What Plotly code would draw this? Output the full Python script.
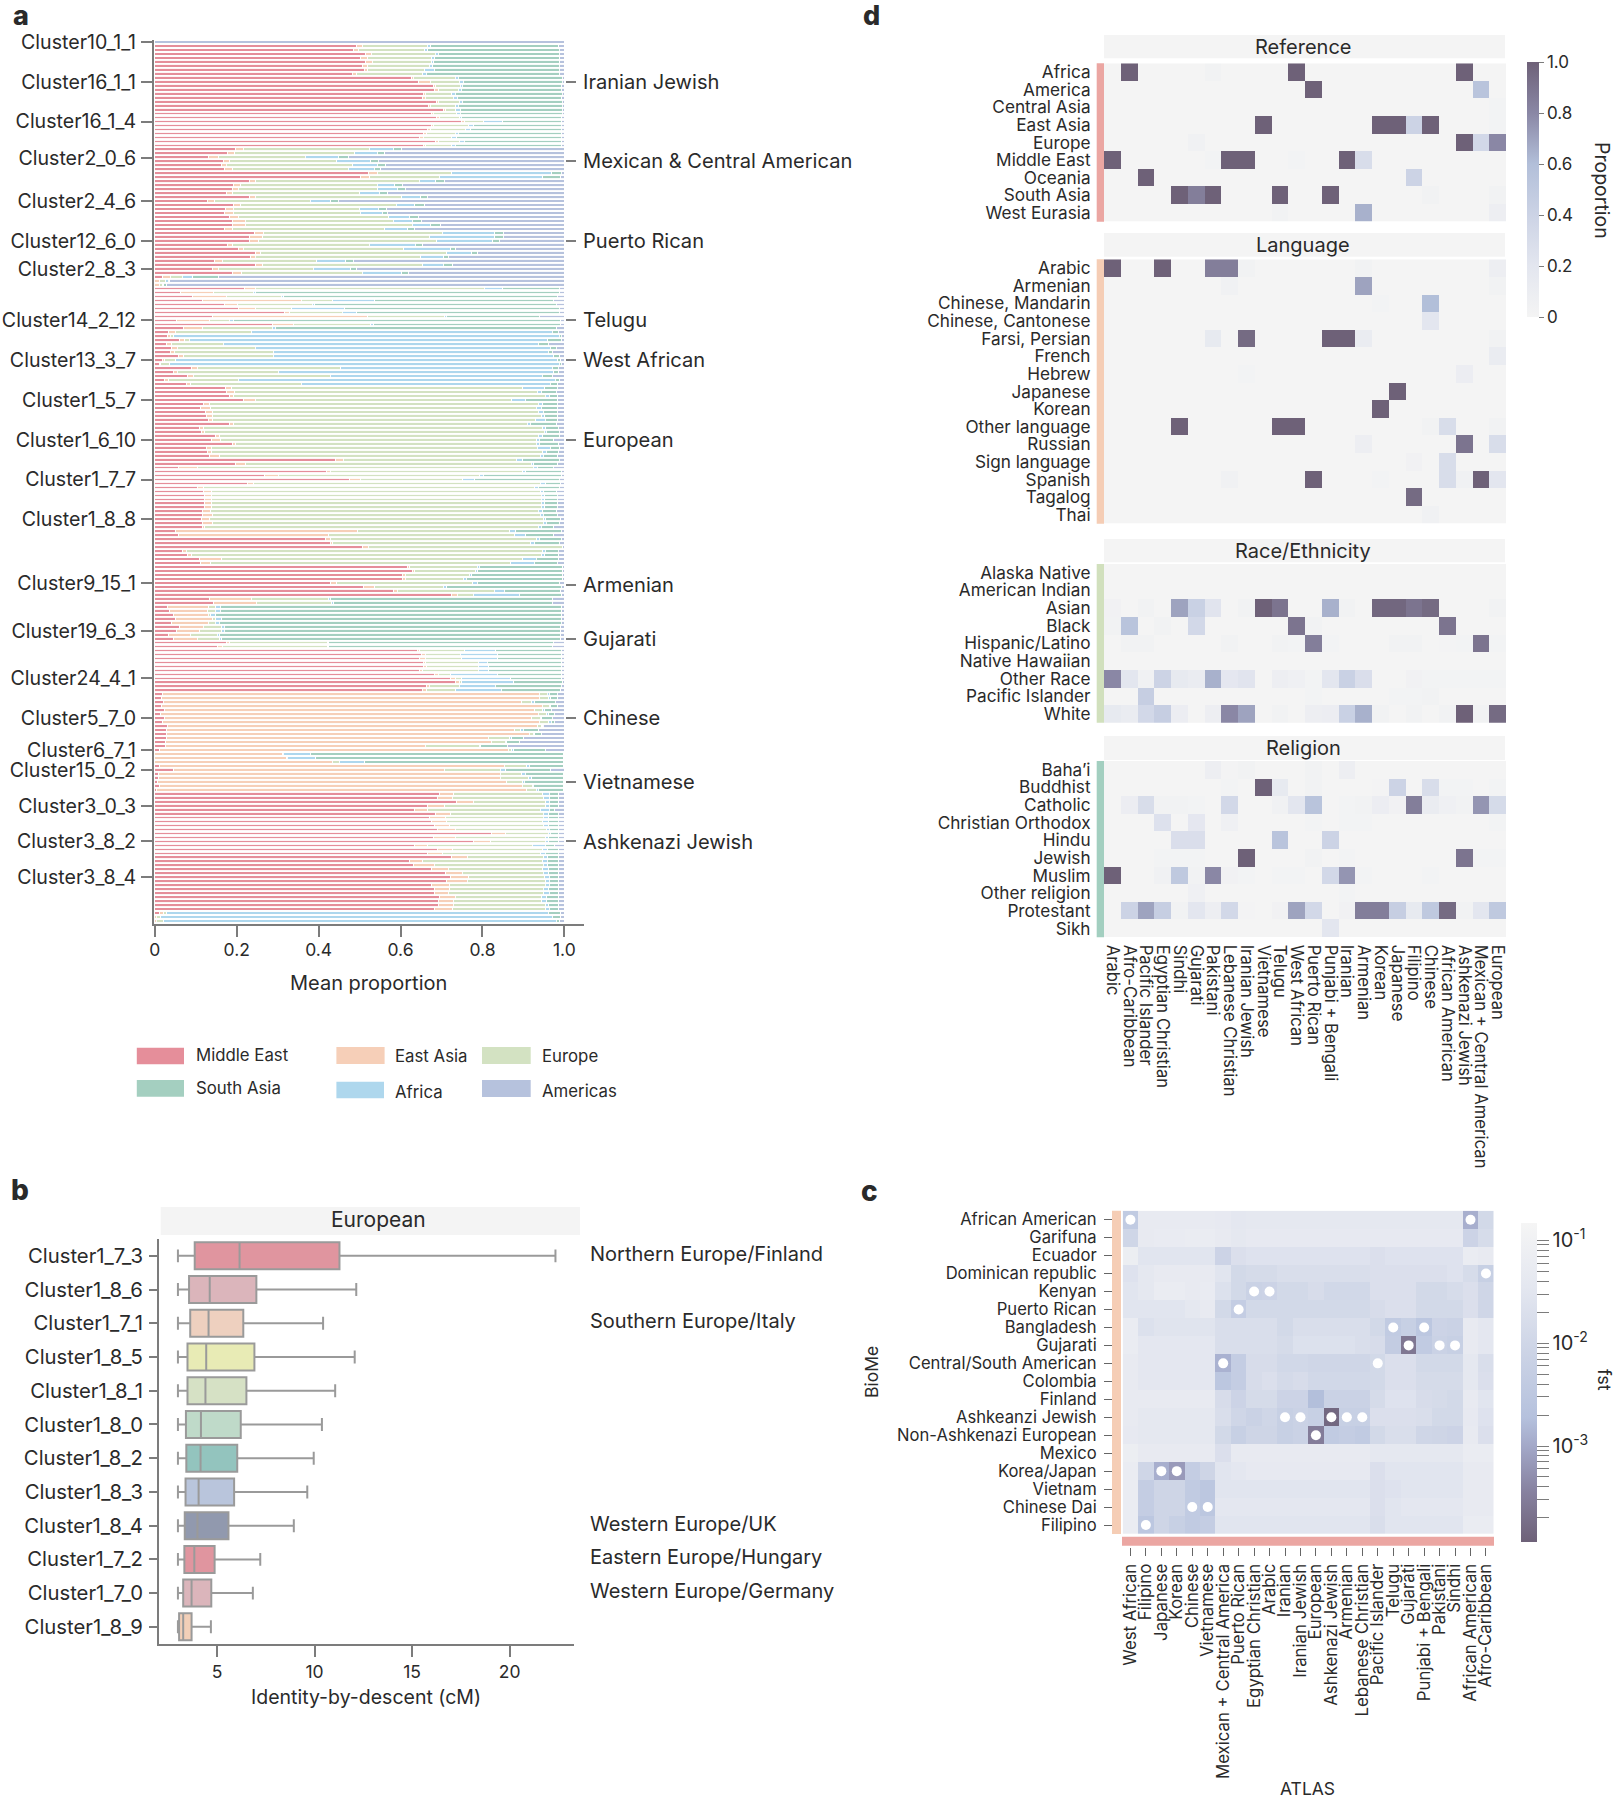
import numpy as np
import plotly.graph_objects as go

W, H = 1614, 1800
FONT = "Inter"
INK = "#2a2a2a"
AXIS = "#7c7c7c"
STRIP = "#f4f4f4"

# --- panel a: cumulative end of each region along the bar, one entry per row
me_end = [
    0, .493, .486, .515, .502, .515, .507, .511, .482,
    .627, .644, .681, .682, .656, .654, .688, .668, .705, .675, .689,
    .748, .675, .665, .657, .646, .686, .656,
    .198, .177, .130, .167, .164, .171, .521, .502,
    .230, .191, .189, .175, .232, .128, .191, .173, .170, .183, .189, .189, .170,
    .244, .230, .230, .177, .204, .246, .234, .146, .246, .140, .189,
    .019, 0, 0,
    .218, .063, .091, .116, .170, .204, .317, .142, .053, .287, .069, .034, .031, .061, .029, .041, .038, .057, .018, .011,
    .089, .045, .081, .023, .077,
    .173, .175, .183, .216, .118, .112, .124, .125, .130, .183, .110, .114, .149, .139, .190, .125, .128, .134,
    .440, .198, .057, .418, .269, .476, .226, .104,
    .120, .121, .121, .122, .121, .116,
    .116, .114, .116, .116,
    .050, .059, .417, .428, .507, .068, .080, .108, .112,
    .616, .629, .604, .604, .429, .509, .584, .724,
    .133, .144, .030, .037, .045, .051, .041, .061, .053, .034, .046,
    .175, .153,
    .641, .651, .647, .656, .656, .647, .682, .722, .733, .664, .653,
    .018, .017, .020, .017, .023, .014, .023, .019, .030, .029, .029, .029, .027, .026,
    .012, 0, 0, 0, .011, .046, .009, .009, .007, .011, .004,
    .695, .690, .736, .667, .633, .686, .670, .676, .682, .690,
    .822, .680, .778, .633, .690, .667, .725, .623, .631, .676,
    .711, .723, .713, .676, .682, .682, .695, .692, .692, .682,
    .011, 0, 0,
]
ea_end = [
    0, .507, .497, .529, .520, .531, .520, .520, .493,
    .631, .672, .686, .693, .660, .660, .692, .673, .710, .680, .694,
    .757, .681, .673, .664, .656, .693, .662,
    .216, .195, .155, .183, .175, .190, .543, .525,
    .247, .210, .204, .190, .245, .146, .210, .191, .191, .204, .221, .221, .190,
    .265, .263, .254, .190, .216, .259, .245, .165, .263, .155, .212,
    .038, .012, .011,
    .245, .144, .175, .358, .202, .247, .330, .520, .134, .338, .116, .050, .038, .073, .041, .055, .047, .071, .024, .014,
    .104, .055, .094, .034, .088,
    .188, .195, .193, .245, .134, .137, .142, .141, .141, .193, .120, .122, .159, .160, .198, .138, .139, .159,
    .460, .222, .104, .428, .301, .502, .242, .120,
    .139, .139, .139, .139, .139, .137,
    .141, .134, .141, .122,
    .495, .425, .428, .434, .521, .077, .090, .163, .136,
    .623, .635, .611, .611, .444, .537, .592, .739,
    .236, .248, .132, .129, .131, .141, .130, .118, .110, .087, .103,
    .183, .165,
    .647, .660, .660, .662, .664, .654, .692, .735, .745, .670, .664,
    .939, .939, .896, .946, .928, .936, .920, .939, .935, .879, .914, .814, .822, .660,
    .863, .312, .322, .433, .853, .707, .843, .843, .859, .897, .908,
    .730, .726, .777, .708, .666, .722, .711, .713, .720, .733,
    .857, .733, .820, .666, .727, .703, .763, .654, .682, .716,
    .751, .767, .763, .719, .720, .716, .733, .729, .729, .727,
    .022, .004, .004,
]
eu_end = [
    0, .665, .659, .685, .676, .676, .670, .659, .654,
    .733, .743, .746, .741, .725, .729, .743, .735, .735, .737, .745,
    .803, .767, .759, .733, .725, .745, .725,
    .523, .488, .367, .444, .483, .472, .725, .694,
    .646, .543, .544, .501, .603, .379, .590, .499, .502, .571, .582, .629, .562,
    .702, .670, .688, .524, .608, .713, .649, .395, .654, .387, .507,
    .067, .027, .019,
    .805, .240, .309, .434, .385, .334, .458, .708, .182, .527, .287, .236, .046, .084, .167, .245, .289, .289, .051, .037,
    .454, .301, .428, .204, .358,
    .898, .934, .953, .872, .936, .931, .936, .945, .930, .910, .947, .951, .936, .932, .931, .934, .947, .941,
    .882, .919, .924, .898, .794, .752, .941, .928,
    .942, .944, .944, .944, .944, .936,
    .941, .950, .949, .936,
    .867, .879, .932, .918, .996, .947, .945, .898, .869,
    .787, .784, .768, .753, .776, .704, .829, .777,
    .423, .432, .149, .148, .136, .149, .147, .163, .163, .153, .159,
    .422, .422,
    .757, .746, .749, .790, .790, .790, .722, .750, .750, .743, .735,
    .958, .962, .920, .963, .947, .957, .941, .962, .945, .894, .924, .867, .856, .792,
    .871, .314, .323, .450, .908, .843, .896, .913, .898, .922, .931,
    .947, .950, .954, .954, .941, .949, .949, .947, .950, .957,
    .961, .955, .953, .922, .947, .942, .950, .947, .949, .947,
    .949, .952, .954, .953, .949, .950, .945, .945, .954, .954,
    .029, .015, .022,
]
af_end = [
    0, .674, .667, .692, .683, .681, .679, .682, .663,
    .741, .753, .751, .748, .733, .738, .751, .741, .746, .746, .748,
    .849, .779, .772, .741, .737, .755, .733,
    .582, .543, .448, .527, .543, .536, .969, .947,
    .686, .586, .592, .548, .649, .430, .635, .546, .555, .621, .628, .672, .618,
    .830, .830, .825, .636, .722, .774, .706, .466, .704, .478, .603,
    .092, .033, .022,
    .849, .245, .315, .537, .390, .464, .493, .712, .191, .535, .294, .971, .987, .959, .936, .966, .961, .974, .984, .987,
    .971, .974, .946, .978, .966,
    .952, .944, .963, .904, .947, .944, .948, .952, .953, .917, .955, .956, .947, .939, .939, .965, .956, .948,
    .898, .925, .934, .906, .802, .781, .954, .936,
    .950, .952, .952, .952, .952, .947,
    .948, .955, .956, .944,
    .881, .906, .939, .926, .996, .953, .952, .931, .927,
    .792, .789, .774, .760, .787, .713, .853, .890,
    .428, .437, .160, .160, .149, .164, .157, .169, .169, .158, .164,
    .425, .425,
    .832, .837, .837, .812, .815, .815, .836, .869, .877, .831, .846,
    .963, .967, .928, .967, .952, .962, .945, .968, .947, .900, .928, .871, .859, .796,
    .877, .379, .393, .513, .914, .857, .904, .920, .902, .924, .936,
    .963, .963, .963, .963, .963, .962, .962, .962, .962, .963,
    .965, .962, .962, .953, .960, .953, .960, .958, .960, .962,
    .962, .963, .963, .963, .962, .963, .957, .957, .962, .963,
    .961, .971, .980,
]
sa_end = [
    0, .986, .988, .988, .989, .989, .987, .988, .988,
    .995, .995, .994, .993, .995, .994, .995, .995, .995, .995, .994,
    .994, .993, .993, .994, .993, .994, .994,
    .602, .562, .472, .545, .564, .552, .992, .991,
    .707, .604, .611, .569, .665, .448, .659, .566, .567, .643, .650, .698, .633,
    .851, .851, .841, .654, .735, .789, .716, .484, .727, .493, .619,
    .155, .037, .029,
    .988, .989, .983, .973, .980, .988, .988, .939, .991, .991, .981, .985, .993, .993, .961, .980, .971, .989, .991, .993,
    .985, .986, .971, .989, .984,
    .983, .980, .984, .984, .983, .983, .983, .984, .984, .981, .985, .987, .987, .974, .986, .989, .986, .984,
    .988, .984, .973, .992, .994, .988, .991, .988,
    .981, .983, .983, .984, .983, .981,
    .983, .991, .988, .974,
    .993, .974, .992, .987, .996, .985, .986, .986, .983,
    .996, .996, .996, .996, .988, .992, .991, .994,
    .970, .970, .994, .994, .994, .993, .993, .991, .991, .991, .991,
    .973, .971,
    .993, .994, .994, .994, .994, .994, .994, .994, .996, .993, .991,
    .983, .984, .978, .984, .968, .975, .971, .975, .949, .937, .943, .901, .890, .861,
    .953, .998, .998, .998, .998, .965, .998, .998, .998, .998, .998,
    .986, .986, .986, .986, .975, .985, .985, .985, .985, .986,
    .986, .986, .986, .976, .986, .986, .986, .986, .986, .986,
    .986, .986, .986, .986, .986, .986, .986, .986, .986, .986,
    .991, .991, .989,
]
region_names = ["Middle East", "East Asia", "Europe", "Africa", "South Asia", "Americas"]
region_colors = ["#e58e9a", "#f6cfb8", "#d3e2c2", "#aed7ed", "#a4cfc0", "#b6c2dd"]

cluster_rows = [0, 10, 20, 29.25, 40, 50, 57, 70, 80, 90, 100, 110, 120, 136, 148, 160, 170, 178, 183, 192, 201, 210]
cluster_labels = [
    "Cluster10_1_1", "Cluster16_1_1", "Cluster16_1_4", "Cluster2_0_6", "Cluster2_4_6",
    "Cluster12_6_0", "Cluster2_8_3", "Cluster14_2_12", "Cluster13_3_7", "Cluster1_5_7",
    "Cluster1_6_10", "Cluster1_7_7", "Cluster1_8_8", "Cluster9_15_1", "Cluster19_6_3",
    "Cluster24_4_1", "Cluster5_7_0", "Cluster6_7_1", "Cluster15_0_2", "Cluster3_0_3",
    "Cluster3_8_2", "Cluster3_8_4",
]
group_rows = [10, 30, 50, 70, 80, 100, 136.5, 150, 170, 186, 201]
group_labels = [
    "Iranian Jewish", "Mexican &amp; Central American", "Puerto Rican", "Telugu", "West African",
    "European", "Armenian", "Gujarati", "Chinese", "Vietnamese", "Ashkenazi Jewish",
]

# --- panel b
box_labels = [
    "Cluster1_7_3", "Cluster1_8_6", "Cluster1_7_1", "Cluster1_8_5", "Cluster1_8_1", "Cluster1_8_0",
    "Cluster1_8_2", "Cluster1_8_3", "Cluster1_8_4", "Cluster1_7_2", "Cluster1_7_0", "Cluster1_8_9",
]
box_low = [3.0] * 12
box_q1 = [3.86, 3.57, 3.63, 3.49, 3.49, 3.41, 3.43, 3.39, 3.35, 3.33, 3.27, 3.06]
box_median = [6.16, 4.63, 4.57, 4.45, 4.41, 4.18, 4.16, 4.06, 4.0, 3.84, 3.70, 3.27]
box_q3 = [11.28, 7.02, 6.35, 6.92, 6.51, 6.22, 6.04, 5.88, 5.59, 4.88, 4.71, 3.70]
box_high = [22.35, 12.14, 10.44, 12.06, 11.06, 10.38, 9.96, 9.63, 8.94, 7.22, 6.84, 4.69]
box_colors = ["#e0959f", "#dbb5bb", "#eed0bf", "#e8ebb5", "#d6e1c5", "#bfdac9",
              "#93c4be", "#b9c5dc", "#9199ae", "#e0959f", "#dbb5bb", "#f2cfb8"]
box_notes = {
    "Cluster1_7_3": "Northern Europe/Finland",
    "Cluster1_7_1": "Southern Europe/Italy",
    "Cluster1_8_4": "Western Europe/UK",
    "Cluster1_7_2": "Eastern Europe/Hungary",
    "Cluster1_7_0": "Western Europe/Germany",
}

# --- panel d
d_columns = [
    "Arabic", "Afro-Caribbean", "Pacific Islander", "Egyptian Christian", "Sindhi", "Gujarati",
    "Pakistani", "Lebanese Christian", "Iranian Jewish", "Vietnamese", "Telugu", "West African",
    "Puerto Rican", "Punjabi + Bengali", "Iranian", "Armenian", "Korean", "Japanese", "Filipino",
    "Chinese", "African American", "Ashkenazi Jewish", "Mexican + Central American", "European",
]
reference_rows = ["Africa", "America", "Central Asia", "East Asia", "Europe", "Middle East",
                  "Oceania", "South Asia", "West Eurasia"]
reference_values = [
    [0, 1, 0, 0, 0, 0, .03, 0, 0, 0, 0, 1, 0, 0, 0, 0, 0, 0, 0, 0, 0, 1, 0, 0],
    [0, 0, 0, 0, 0, 0, 0, 0, 0, 0, 0, 0, 1, 0, 0, 0, 0, 0, 0, 0, 0, 0, .55, 0],
    [0, 0, 0, 0, 0, 0, 0, 0, 0, 0, 0, 0, 0, 0, 0, 0, 0, 0, 0, 0, 0, 0, 0, .02],
    [0, 0, 0, 0, 0, 0, 0, 0, 0, 1, 0, 0, 0, 0, 0, 0, 1, 1, .4, 1, 0, 0, 0, .02],
    [0, 0, 0, 0, 0, .05, 0, 0, 0, 0, 0, 0, 0, 0, 0, 0, 0, 0, 0, 0, 0, 1, .35, .8],
    [1, 0, 0, 0, 0, 0, .02, 1, 1, 0, 0, .02, 0, 0, 1, .3, 0, 0, 0, 0, 0, 0, 0, 0],
    [0, 0, 1, 0, 0, 0, 0, 0, 0, 0, 0, 0, 0, 0, 0, 0, 0, 0, .4, 0, 0, 0, 0, 0],
    [0, 0, 0, 0, 1, .85, 1, 0, 0, 0, 1, 0, 0, 1, 0, 0, 0, 0, 0, .03, 0, 0, 0, .03],
    [0, 0, 0, 0, 0, 0, 0, 0, 0, 0, .03, 0, 0, 0, 0, .65, 0, 0, 0, 0, 0, 0, 0, .08],
]
language_rows = ["Arabic", "Armenian", "Chinese, Mandarin", "Chinese, Cantonese", "Farsi, Persian",
                 "French", "Hebrew", "Japanese", "Korean", "Other language", "Russian",
                 "Sign language", "Spanish", "Tagalog", "Thai"]
language_values = [
    [1, 0, 0, 1, 0, 0, .85, .85, .03, 0, 0, 0, 0, 0, 0, .03, 0, 0, 0, 0, 0, 0, 0, .08],
    [0, 0, 0, 0, 0, 0, 0, .05, 0, 0, 0, 0, 0, 0, 0, .7, 0, 0, 0, 0, 0, 0, 0, .03],
    [0, 0, 0, 0, 0, 0, 0, 0, 0, 0, 0, 0, 0, 0, 0, 0, .02, 0, 0, .6, 0, 0, 0, 0],
    [0, 0, 0, 0, 0, 0, 0, 0, 0, 0, 0, 0, 0, 0, 0, 0, 0, 0, 0, .2, 0, 0, 0, 0],
    [0, 0, 0, 0, 0, 0, .15, 0, .95, 0, 0, 0, 0, 1, 1, .12, 0, 0, 0, 0, 0, 0, 0, .03],
    [0, 0, 0, 0, 0, 0, 0, 0, 0, 0, 0, 0, 0, 0, 0, 0, 0, 0, 0, 0, 0, 0, 0, .12],
    [0, 0, 0, 0, 0, 0, 0, 0, .02, 0, 0, 0, 0, 0, 0, 0, 0, 0, 0, 0, 0, .1, 0, 0],
    [0, 0, 0, 0, 0, 0, 0, 0, 0, 0, 0, 0, 0, 0, 0, 0, 0, 1, 0, 0, 0, 0, 0, 0],
    [0, 0, 0, 0, 0, 0, 0, 0, 0, 0, 0, 0, 0, 0, 0, 0, 1, 0, 0, 0, 0, 0, 0, 0],
    [0, 0, 0, 0, 1, 0, 0, 0, 0, 0, 1, 1, 0, 0, 0, 0, 0, 0, 0, .03, .3, 0, 0, .03],
    [0, 0, 0, 0, 0, 0, 0, 0, 0, 0, 0, 0, 0, 0, 0, .08, 0, 0, 0, 0, 0, .9, 0, .3],
    [0, 0, 0, 0, 0, 0, 0, 0, 0, 0, 0, 0, 0, 0, 0, 0, 0, 0, .04, 0, .3, 0, 0, 0],
    [0, 0, 0, 0, 0, 0, 0, .05, 0, 0, 0, 0, 1, 0, 0, 0, .02, 0, 0, 0, .3, .05, 1, .2],
    [0, 0, 0, 0, 0, 0, 0, 0, 0, 0, 0, 0, 0, 0, 0, 0, 0, 0, .95, 0, 0, 0, 0, 0],
    [0, 0, 0, 0, 0, 0, 0, 0, 0, 0, 0, 0, 0, 0, 0, 0, 0, 0, 0, .05, 0, 0, 0, 0],
]
race_rows = ["Alaska Native", "American Indian", "Asian", "Black", "Hispanic/Latino",
             "Native Hawaiian", "Other Race", "Pacific Islander", "White"]
race_values = [
    [0] * 24,
    [0] * 24,
    [.04, 0, .03, 0, .7, .42, .22, 0, .03, 1, .9, 0, 0, .65, .03, 0, .97, .97, .9, .95, 0, 0, 0, .03],
    [.03, .55, 0, .03, 0, .35, 0, 0, 0, 0, 0, .9, .03, 0, 0, 0, 0, 0, 0, 0, .9, 0, 0, 0],
    [0, .03, .03, 0, 0, 0, 0, .03, 0, 0, .03, .02, .85, .02, 0, 0, 0, .03, .03, 0, .01, .02, .9, .02],
    [0] * 24,
    [.8, .2, .05, .4, .15, .12, .65, .18, .22, 0, .08, .06, .02, .2, .42, .28, 0, 0, .04, .02, .02, .02, .02, .02],
    [0, 0, .45, 0, 0, 0, 0, 0, 0, 0, 0, 0, .02, 0, 0, 0, 0, .02, .02, .03, 0, 0, 0, 0],
    [.15, .12, .35, .45, .1, 0, .08, .8, .7, 0, .03, 0, .08, .1, .42, .65, .03, 0, .03, 0, .03, 1, .03, .95],
]
religion_rows = ["Baha’i", "Buddhist", "Catholic", "Christian Orthodox", "Hindu", "Jewish",
                 "Muslim", "Other religion", "Protestant", "Sikh"]
religion_values = [
    [0, 0, 0, 0, 0, 0, .08, .01, .03, 0, 0, 0, .03, 0, .08, 0, 0, 0, 0, 0, 0, 0, 0, 0],
    [0, 0, 0, 0, 0, 0, 0, .02, 0, 1, .15, 0, .03, 0, 0, 0, .01, .4, 0, .3, .02, .02, 0, .02],
    [0, .1, .3, .03, .03, .02, 0, .35, 0, 0, .05, .2, .55, 0, .02, .03, .1, .04, .85, .12, .06, .03, .75, .32],
    [0, 0, 0, .25, 0, .18, 0, .06, 0, 0, 0, 0, .02, 0, .02, .02, 0, 0, 0, 0, 0, 0, 0, .02],
    [0, 0, 0, 0, .28, .28, 0, 0, 0, 0, .55, 0, 0, .4, 0, 0, 0, 0, 0, 0, 0, 0, 0, 0],
    [0, 0, 0, .02, .02, .02, 0, 0, 1, 0, 0, 0, .03, 0, .02, 0, 0, 0, 0, 0, 0, .9, .02, .02],
    [1, 0, 0, .05, .5, .03, .8, .04, .02, 0, .02, .02, 0, .35, .75, .02, 0, 0, 0, .02, 0, 0, 0, 0],
    [0, 0, 0, 0, 0, .06, 0, 0, 0, 0, 0, 0, 0, 0, .02, 0, 0, 0, 0, 0, 0, 0, 0, 0],
    [0, .4, .7, .45, .03, .2, .08, .35, .01, 0, .04, .7, .35, 0, .04, .85, .85, .45, .15, .5, .95, .03, .2, .5],
    [0, 0, 0, 0, 0, 0, 0, 0, 0, 0, 0, 0, 0, .2, 0, 0, 0, 0, 0, 0, 0, 0, 0, 0],
]
proportion_scale = [[0, "#f4f4f4"], [.2, "#e3e6ef"], [.4, "#ccd3e5"], [.6, "#b2bfd9"], [.8, "#8a87a5"], [1, "#6e6178"]]

# --- panel c
atlas_columns = [
    "West African", "Filipino", "Japanese", "Korean", "Chinese", "Vietnamese",
    "Mexican + Central America", "Puerto Rican", "Egyptian Christian", "Arabic", "Iranian",
    "Iranian Jewish", "European", "Ashkenazi Jewish", "Armenian", "Lebanese Christian",
    "Pacific Islander", "Telugu", "Gujarati", "Punjabi + Bengali", "Pakistani", "Sindhi",
    "African American", "Afro-Caribbean",
]
biome_rows = [
    "African American", "Garifuna", "Ecuador", "Dominican republic", "Kenyan", "Puerto Rican",
    "Bangladesh", "Gujarati", "Central/South American", "Colombia", "Finland", "Ashkeanzi Jewish",
    "Non-Ashkenazi European", "Mexico", "Korea/Japan", "Vietnam", "Chinese Dai", "Filipino",
]
fst_values = [
    [.004, .05, .05, .05, .05, .05, .045, .035, .04, .04, .04, .04, .04, .04, .04, .04, .04, .04, .04, .04, .04, .04, .0012, .012],
    [.01, .05, .055, .055, .06, .06, .05, .04, .045, .045, .045, .045, .045, .045, .045, .045, .045, .045, .045, .045, .045, .045, .008, .015],
    [.07, .03, .03, .03, .03, .03, .008, .02, .025, .025, .025, .025, .025, .025, .025, .025, .02, .025, .025, .025, .025, .025, .06, .05],
    [.025, .04, .05, .05, .05, .05, .03, .012, .014, .014, .018, .018, .018, .018, .018, .018, .02, .02, .02, .02, .02, .025, .015, .006],
    [.03, .04, .06, .06, .05, .055, .022, .012, .007, .008, .012, .012, .016, .011, .011, .011, .02, .02, .02, .012, .012, .015, .02, .01],
    [.03, .03, .03, .03, .04, .05, .012, .005, .012, .012, .012, .012, .012, .012, .012, .012, .016, .02, .02, .012, .012, .012, .02, .01],
    [.06, .022, .028, .028, .028, .028, .018, .018, .018, .018, .012, .018, .018, .018, .018, .018, .012, .004, .006, .003, .008, .007, .05, .035],
    [.06, .035, .035, .035, .035, .035, .018, .018, .018, .018, .014, .022, .022, .022, .022, .018, .016, .0045, .00025, .004, .007, .006, .05, .035],
    [.05, .035, .035, .035, .035, .035, .0013, .005, .016, .016, .011, .011, .01, .01, .01, .01, .012, .02, .02, .012, .012, .012, .04, .018],
    [.05, .035, .035, .035, .035, .035, .003, .005, .016, .02, .013, .016, .011, .011, .011, .011, .012, .02, .02, .014, .014, .014, .04, .02],
    [.05, .05, .05, .05, .05, .05, .016, .008, .014, .014, .008, .008, .0018, .007, .007, .007, .014, .025, .025, .016, .014, .012, .05, .03],
    [.05, .04, .04, .04, .04, .04, .018, .01, .007, .01, .006, .007, .006, .00015, .006, .006, .02, .02, .02, .018, .012, .012, .045, .025],
    [.045, .04, .04, .04, .04, .04, .012, .006, .009, .009, .006, .007, .0003, .004, .005, .004, .012, .018, .018, .01, .009, .008, .05, .02],
    [.07, .05, .05, .05, .05, .05, .02, .05, .05, .05, .05, .05, .05, .05, .05, .05, .04, .04, .04, .04, .04, .04, .06, .06],
    [.06, .01, .0012, .0007, .005, .009, .03, .035, .045, .045, .045, .045, .045, .045, .045, .045, .02, .03, .03, .03, .03, .03, .05, .05],
    [.06, .005, .009, .009, .004, .003, .03, .03, .03, .03, .03, .03, .03, .03, .03, .03, .02, .025, .03, .03, .03, .03, .05, .05],
    [.06, .005, .009, .009, .004, .003, .035, .035, .035, .035, .035, .035, .035, .035, .035, .035, .02, .03, .035, .035, .035, .035, .05, .05],
    [.06, .003, .009, .006, .004, .005, .03, .03, .03, .03, .03, .03, .03, .03, .03, .03, .018, .03, .03, .03, .03, .03, .06, .06],
]
dot_rows = [0, 0, 3, 4, 4, 5, 6, 6, 7, 7, 7, 8, 8, 11, 11, 11, 11, 11, 12, 14, 14, 16, 16, 17]
dot_cols = [0, 22, 23, 8, 9, 7, 17, 19, 18, 20, 21, 6, 16, 10, 11, 13, 14, 15, 12, 2, 3, 4, 5, 1]
fst_scale = [[0, "#6e6178"], [.16, "#8782a0"], [.3, "#a3a8c8"], [.39, "#b5c1dd"], [.62, "#cfd6e7"], [.8, "#e4e7f0"], [1, "#f5f5f5"]]
fst_ticks = [.1, .09, .08, .07, .06, .05, .04, .03, .02,
             .01, .009, .008, .007, .006, .005, .004, .003, .002,
             .001, .0009, .0008, .0007, .0006, .0005, .0004, .0003, .0002]


def xdom(left, right):
    return [left / W, right / W]


def ydom(top, bottom):
    return [1 - bottom / H, 1 - top / H]


def note(text, x, y, size=17, anchor="center", angle=0, weight=None, yref="paper", yshift=0):
    font = dict(family=FONT, size=size, color=INK)
    if weight:
        font["weight"] = weight
    return dict(
        text=text, x=x / W, y=(1 - y / H) if yref == "paper" else y, xref="paper", yref=yref,
        xanchor=anchor, yanchor="middle", showarrow=False, textangle=angle, font=font, yshift=yshift,
    )


def rect(x0, x1, y0, y1, color, layer="above"):
    return dict(
        type="rect", xref="paper", yref="paper", x0=x0 / W, x1=x1 / W,
        y0=1 - y1 / H, y1=1 - y0 / H, fillcolor=color, line=dict(width=0), layer=layer,
    )


fig = go.Figure()
shapes, notes = [], []

# panel a, stacked bars
ends = np.array([me_end, ea_end, eu_end, af_end, sa_end, np.ones(len(me_end))])
shares = np.diff(np.vstack([np.zeros(len(me_end)), ends]), axis=0)
rows = np.arange(len(me_end))
for name, color, share in zip(region_names, region_colors, shares):
    fig.add_trace(go.Bar(
        y=rows, x=share, orientation="h", name=name, showlegend=False,
        marker=dict(color=color, line=dict(color="white", width=0.9)),
        xaxis="x", yaxis="y",
    ))
fig.add_trace(go.Scatter(x=[None], y=[None], xaxis="x", yaxis="y2", showlegend=False))

# panel b, boxes built from the read quartiles
for i, label in enumerate(box_labels):
    fig.add_trace(go.Box(
        y=[label], q1=[box_q1[i]], median=[box_median[i]], q3=[box_q3[i]],
        lowerfence=[box_low[i]], upperfence=[box_high[i]], orientation="h",
        fillcolor=box_colors[i], line=dict(color="#9a9a9a", width=2), width=0.8,
        whiskerwidth=0.48, boxpoints=False, showlegend=False, xaxis="x3", yaxis="y3",
    ))

# panel d, four heatmaps on one colour axis
d_groups = [
    ("Reference", reference_rows, reference_values, 63.3, 221.7, 35, 58.3, "#eba6a2", 4),
    ("Language", language_rows, language_values, 259.3, 523.7, 233, 256.7, "#f5cdb5", 5),
    ("Race/Ethnicity", race_rows, race_values, 564, 722.7, 539, 562.3, "#d1e0bd", 6),
    ("Religion", religion_rows, religion_values, 761, 937.3, 736, 760, "#a3cfc0", 7),
]
axes = {}
for title, labels, values, top, bottom, s0, s1, bar, n in d_groups:
    fig.add_trace(go.Heatmap(
        z=values, x=list(range(24)), y=list(range(len(labels))),
        coloraxis="coloraxis", xaxis=f"x{n}", yaxis=f"y{n}",
    ))
    last = title == "Religion"
    axes[f"xaxis{n}"] = dict(
        domain=xdom(1104, 1506), range=[-0.5, 23.5], anchor=f"y{n}", showgrid=False, zeroline=False,
        tickmode="array", tickvals=list(range(24)) if last else [],
        ticktext=d_columns if last else [], tickangle=90, ticks="outside" if last else "",
        ticklen=3, tickcolor="rgba(0,0,0,0)", tickfont=dict(family=FONT, size=16.7, color=INK),
    )
    axes[f"yaxis{n}"] = dict(
        domain=ydom(top, bottom), range=[len(labels) - 0.5, -0.5], anchor=f"x{n}",
        showgrid=False, zeroline=False, tickmode="array",
        tickvals=list(range(len(labels))), ticktext=labels, ticks="outside", ticklen=9,
        tickcolor="rgba(0,0,0,0)", tickfont=dict(family=FONT, size=17.2, color=INK),
    )
    shapes.append(rect(1104, 1505, s0, s1, STRIP, "below"))
    shapes.append(rect(1096.7, 1104, top, bottom, bar))
    notes.append(note(title, 1303, (s0 + s1) / 2, 20))

# panel c
fig.add_trace(go.Heatmap(
    z=np.log10(fst_values), x=list(range(24)), y=list(range(18)),
    coloraxis="coloraxis2", xaxis="x8", yaxis="y8",
))
fig.add_trace(go.Scatter(
    x=dot_cols, y=dot_rows, mode="markers", showlegend=False,
    marker=dict(color="white", size=10, line=dict(width=0)), xaxis="x8", yaxis="y8",
))
shapes.append(rect(1112, 1121, 1210.7, 1534, "#f5cdb5"))
shapes.append(rect(1122, 1494, 1536.7, 1545.7, "#eba6a2"))

# panel b furniture
shapes.append(rect(160.7, 580, 1207, 1235, STRIP, "below"))
notes.append(note("European", 378, 1219, 21))
for label, text in box_notes.items():
    notes.append(note(text, 588, label, 20, "left", yref="y3", yshift=2))

# panel a legend, drawn because its rows do not line up
legend = [
    (0, 136.8, 184, 1047.7, 1064.3, 194, 1055),
    (4, 136.8, 184, 1080, 1096.7, 194, 1088),
    (1, 336.4, 384.6, 1047, 1064, 393, 1056),
    (3, 336.4, 384, 1081.7, 1098.3, 393, 1092),
    (2, 482, 530.7, 1047, 1064, 540, 1056),
    (5, 482, 530.7, 1080, 1097, 540, 1090.7),
]
for idx, x0, x1, y0, y1, tx, ty in legend:
    shapes.append(rect(x0, x1, y0, y1, region_colors[idx]))
    notes.append(note(region_names[idx], tx, ty, 16.8, "left"))

# loose text
notes += [
    note("Mean proportion", 368.6, 983, 20),
    note("Identity-by-descent (cM)", 366, 1697, 19.5),
    note("BioMe", 871, 1372, 17.5, angle=-90),
    note("ATLAS", 1307, 1788, 17.5),
    note("Proportion", 1602, 190, 19.5, angle=90),
    note("fst", 1605, 1380, 18, angle=90),
    note("a", 21, 16, 27, weight=800),
    note("d", 871, 16, 27, weight=800),
    note("b", 20, 1190, 28, weight=800),
    note("c", 870, 1191, 28, weight=800),
]

tick_font = dict(family=FONT, size=17.5, color=INK)
fig.update_layout(
    width=W, height=H, autosize=False, margin=dict(l=0, r=0, t=0, b=0, autoexpand=False),
    paper_bgcolor="white", plot_bgcolor="white",
    barmode="stack", bargap=0.3, boxmode="overlay",
    font=dict(family=FONT, color=INK), shapes=shapes, annotations=notes, showlegend=False,
    # panel a
    xaxis=dict(
        domain=xdom(154, 584), range=[-0.002, 1.048], anchor="y", showgrid=False, zeroline=False,
        showline=True, linecolor=AXIS, linewidth=2, ticks="outside", ticklen=11, tickwidth=1.5,
        tickcolor=AXIS, tickvals=[0, .2, .4, .6, .8, 1.0], ticktext=["0", "0.2", "0.4", "0.6", "0.8", "1.0"],
        ticklabelstandoff=-2, tickfont=tick_font,
    ),
    yaxis=dict(
        domain=ydom(40, 924), range=[221.75, -0.5], anchor="x", showgrid=False, zeroline=False,
        showline=True, linecolor=AXIS, linewidth=2, ticks="outside", ticklen=11, tickwidth=1.5,
        tickcolor=AXIS, tickmode="array", tickvals=cluster_rows, ticktext=cluster_labels,
        ticklabelstandoff=1, tickfont=dict(family=FONT, size=19.6, color=INK),
    ),
    yaxis2=dict(
        overlaying="y", anchor="free", position=576 / W, side="right", range=[221.75, -0.5],
        showgrid=False, zeroline=False, showline=False, ticks="inside", ticklen=10, tickwidth=1.5,
        tickcolor=AXIS, tickmode="array", tickvals=group_rows, ticktext=group_labels,
        ticklabelstandoff=6, tickfont=dict(family=FONT, size=20.1, color=INK),
    ),
    # panel b
    xaxis3=dict(
        domain=xdom(159, 574), range=[2.03, 23.3], anchor="y3", showgrid=False, zeroline=False,
        showline=True, linecolor=AXIS, linewidth=2, ticks="outside", ticklen=11, tickwidth=1.5,
        tickcolor=AXIS, tickvals=[5, 10, 15, 20], tickfont=tick_font,
    ),
    yaxis3=dict(
        domain=ydom(1239, 1643.7), range=[11.5, -0.5], anchor="x3", type="category",
        categoryorder="array", categoryarray=box_labels, showgrid=False, zeroline=False,
        showline=True, linecolor=AXIS, linewidth=2, ticks="outside", ticklen=8, tickwidth=1.5,
        tickcolor=AXIS, ticklabelstandoff=2, tickfont=dict(family=FONT, size=20.3, color=INK),
    ),
    # panel c
    xaxis8=dict(
        domain=xdom(1122.7, 1493.7), range=[-0.5, 23.5], anchor="free", position=1 - 1547 / H,
        showgrid=False, zeroline=False, ticks="outside", ticklen=8, tickcolor="#666666", tickwidth=1,
        tickmode="array", tickvals=list(range(24)), ticktext=atlas_columns, tickangle=-90,
        ticklabelstandoff=1, tickfont=dict(family=FONT, size=16.8, color=INK),
    ),
    yaxis8=dict(
        domain=ydom(1210.7, 1534), range=[17.5, -0.5], anchor="free", position=1112 / W,
        showgrid=False, zeroline=False, ticks="outside", ticklen=8, tickcolor="#666666", tickwidth=1,
        tickmode="array", tickvals=list(range(18)), ticktext=biome_rows,
        ticklabelstandoff=4, tickfont=dict(family=FONT, size=16.6, color=INK),
    ),
    coloraxis=dict(
        cmin=0, cmax=1, colorscale=proportion_scale,
        colorbar=dict(
            x=1526.7 / W, xanchor="left", y=1 - 62 / H, yanchor="top", xpad=0, ypad=0,
            lenmode="pixels", len=255, thicknessmode="pixels", thickness=12, outlinewidth=0,
            ticks="outside", ticklen=5, tickcolor=AXIS, tickvals=[0, .2, .4, .6, .8, 1],
            ticktext=["0", "0.2", "0.4", "0.6", "0.8", "1.0"], tickfont=dict(family=FONT, size=17, color=INK),
        ),
    ),
    coloraxis2=dict(
        cmin=-3.93, cmax=-0.83, colorscale=fst_scale,
        colorbar=dict(
            x=1521 / W, xanchor="left", y=1 - 1222.7 / H, yanchor="top", xpad=0, ypad=0,
            lenmode="pixels", len=319, thicknessmode="pixels", thickness=16, outlinewidth=0,
            ticks="outside", ticklen=12, tickcolor=AXIS, tickvals=np.log10(fst_ticks).tolist(),
            ticktext=["10<sup>-%d</sup>" % round(-np.log10(t)) if t in (.1, .01, .001) else "" for t in fst_ticks],
            tickfont=dict(family=FONT, size=20, color=INK),
        ),
    ),
    **axes,
)

fig.write_html("out.html", config={"displayModeBar": False}, post_script="document.body.style.margin='0';")
